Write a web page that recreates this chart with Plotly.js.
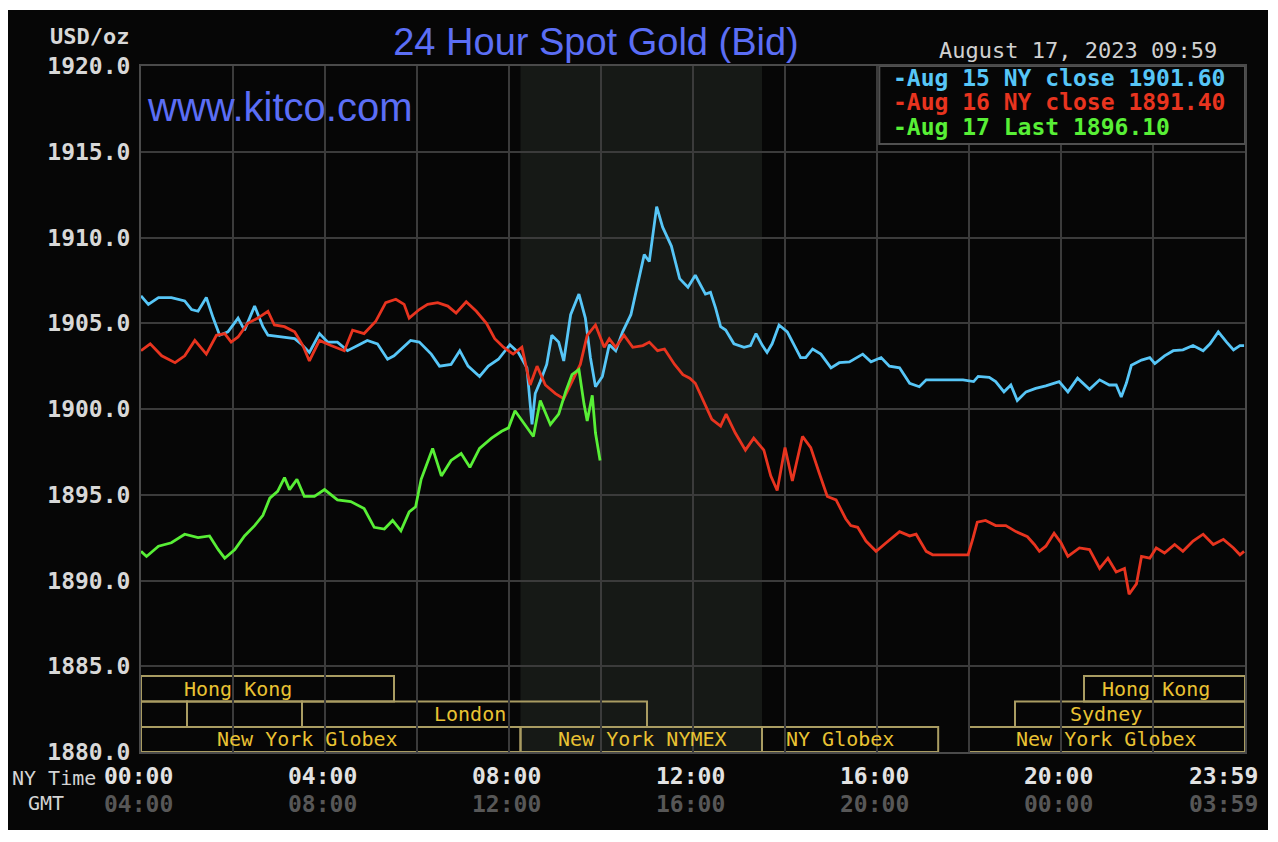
<!DOCTYPE html>
<html><head><meta charset="utf-8">
<script src="https://cdn.plot.ly/plotly-3.0.1.min.js"></script>
<style>
html,body{margin:0;padding:0;background:#ffffff;width:1278px;height:842px;overflow:hidden}
#chart{position:absolute;left:8px;top:10px;width:1260px;height:820px}
</style>
</head><body><div id="chart"></div>
<script>
// ---- data (NY time in hours, price USD/oz) ----
const aug15Hours = [0,0.16,0.38,0.66,0.95,1.1,1.24,1.42,1.57,1.71,1.89,2.11,2.25,2.47,2.65,2.76,3.05,3.34,3.48,3.66,3.88,4.06,4.27,4.49,4.71,4.92,5.14,5.36,5.5,5.65,5.86,6.05,6.31,6.49,6.74,6.93,7.11,7.36,7.55,7.77,8.02,8.2,8.39,8.5,8.57,8.68,8.82,8.93,9.08,9.19,9.34,9.52,9.66,9.77,9.88,10.03,10.18,10.32,10.47,10.65,10.83,10.94,11.05,11.21,11.34,11.53,11.71,11.89,12.05,12.2,12.27,12.38,12.49,12.6,12.71,12.89,13.11,13.25,13.37,13.51,13.61,13.72,13.87,14.05,14.2,14.34,14.45,14.6,14.78,15.0,15.18,15.4,15.69,15.87,16.09,16.27,16.49,16.71,16.92,17.07,17.51,17.87,18.1,18.2,18.44,18.58,18.76,18.91,19.05,19.24,19.45,19.67,19.96,20.15,20.36,20.62,20.84,21.05,21.2,21.31,21.42,21.53,21.75,21.93,22.04,22.25,22.44,22.65,22.87,23.09,23.24,23.42,23.6,23.75,23.89,23.98];
const aug15Price = [1906.6,1906.1,1906.5,1906.5,1906.3,1905.8,1905.7,1906.5,1905.3,1904.3,1904.5,1905.3,1904.6,1906.0,1904.8,1904.3,1904.2,1904.1,1903.8,1903.3,1904.4,1903.9,1903.9,1903.4,1903.7,1904.0,1903.8,1902.9,1903.1,1903.5,1904.0,1903.9,1903.2,1902.5,1902.6,1903.4,1902.5,1901.9,1902.5,1902.9,1903.75,1903.3,1902.4,1899.1,1900.9,1901.6,1902.6,1904.3,1903.9,1902.8,1905.5,1906.7,1905.3,1903.0,1901.3,1901.9,1903.75,1903.4,1904.5,1905.5,1907.8,1909.0,1908.6,1911.8,1910.6,1909.5,1907.6,1907.1,1907.8,1907.0,1906.7,1906.8,1905.9,1904.8,1904.6,1903.8,1903.6,1903.7,1904.4,1903.7,1903.3,1903.8,1904.9,1904.5,1903.7,1903.0,1903.0,1903.5,1903.2,1902.4,1902.7,1902.75,1903.2,1902.75,1903.0,1902.5,1902.4,1901.5,1901.3,1901.7,1901.7,1901.7,1901.6,1901.9,1901.85,1901.6,1901.0,1901.4,1900.5,1901.0,1901.2,1901.35,1901.6,1901.0,1901.8,1901.15,1901.7,1901.4,1901.4,1900.7,1901.5,1902.55,1902.85,1903.0,1902.65,1903.1,1903.4,1903.45,1903.7,1903.4,1903.8,1904.5,1903.9,1903.45,1903.7,1903.7];

const aug16Hours = [0,0.2,0.45,0.74,0.95,1.17,1.42,1.64,1.82,1.96,2.11,2.32,2.54,2.76,2.9,3.12,3.34,3.52,3.66,3.88,4.13,4.42,4.6,4.85,5.1,5.32,5.54,5.72,5.83,6.05,6.23,6.45,6.67,6.85,7.07,7.29,7.51,7.69,7.88,8.09,8.28,8.46,8.61,8.79,9.01,9.19,9.37,9.55,9.7,9.88,10.07,10.18,10.32,10.5,10.69,10.91,11.05,11.23,11.38,11.6,11.78,11.93,12.05,12.23,12.41,12.6,12.72,12.92,13.14,13.32,13.54,13.69,13.83,14.0,14.16,14.38,14.56,14.74,14.92,15.11,15.32,15.43,15.58,15.76,15.98,16.2,16.49,16.71,16.85,17.07,17.21,17.58,17.98,18.09,18.18,18.36,18.58,18.8,19.02,19.27,19.42,19.53,19.67,19.85,20.0,20.15,20.4,20.62,20.84,21.02,21.2,21.38,21.48,21.64,21.75,21.93,22.07,22.25,22.47,22.65,22.87,23.09,23.31,23.53,23.75,23.89,23.98];
const aug16Price = [1903.4,1903.8,1903.1,1902.7,1903.1,1904.0,1903.2,1904.3,1904.4,1903.9,1904.2,1905.0,1905.3,1905.7,1904.9,1904.8,1904.5,1903.7,1902.8,1904.0,1903.7,1903.4,1904.6,1904.4,1905.1,1906.2,1906.4,1906.1,1905.3,1905.8,1906.1,1906.2,1906.0,1905.6,1906.25,1905.7,1905.0,1904.1,1903.6,1903.2,1903.6,1901.4,1902.5,1901.4,1900.9,1900.6,1901.6,1902.6,1904.3,1904.9,1903.6,1904.1,1903.6,1904.3,1903.6,1903.7,1903.9,1903.4,1903.5,1902.6,1902.0,1901.8,1901.5,1900.5,1899.4,1899.0,1899.7,1898.6,1897.6,1898.3,1897.6,1896.1,1895.25,1897.75,1895.8,1898.4,1897.75,1896.3,1894.9,1894.7,1893.6,1893.2,1893.1,1892.3,1891.7,1892.2,1892.85,1892.6,1892.7,1891.7,1891.5,1891.5,1891.5,1892.5,1893.4,1893.5,1893.2,1893.2,1892.85,1892.55,1892.1,1891.7,1892.0,1892.75,1892.2,1891.4,1891.9,1891.8,1890.7,1891.3,1890.5,1890.7,1889.2,1889.8,1891.4,1891.3,1891.9,1891.6,1892.1,1891.7,1892.3,1892.7,1892.1,1892.4,1891.9,1891.5,1891.7];

const aug17Hours = [0,0.12,0.38,0.66,0.95,1.24,1.49,1.68,1.82,2.04,2.25,2.47,2.65,2.8,2.97,3.12,3.23,3.39,3.55,3.77,3.99,4.27,4.56,4.85,5.07,5.29,5.47,5.65,5.83,5.97,6.09,6.34,6.53,6.74,6.96,7.15,7.36,7.62,7.84,7.99,8.13,8.35,8.53,8.68,8.9,9.08,9.23,9.37,9.52,9.63,9.7,9.81,9.88,9.98];
const aug17Price = [1891.7,1891.4,1892.0,1892.2,1892.7,1892.5,1892.6,1891.8,1891.3,1891.8,1892.6,1893.2,1893.8,1894.8,1895.2,1896.0,1895.3,1895.9,1894.9,1894.9,1895.3,1894.7,1894.6,1894.2,1893.1,1893.0,1893.5,1892.9,1894.0,1894.3,1895.9,1897.7,1896.1,1897.0,1897.4,1896.6,1897.7,1898.3,1898.7,1898.9,1899.9,1899.1,1898.4,1900.5,1899.1,1899.7,1901.0,1902.0,1902.3,1900.3,1899.3,1900.8,1898.6,1897.0];

const seriesNames = ["Aug 15 NY close 1901.60","Aug 16 NY close 1891.40","Aug 17 Last 1896.10"];

const priceTicks = [1880,1885,1890,1895,1900,1905,1910,1915,1920];
const gridHours = [0,2,4,6,8,10,12,14,16,18,20,22,24];
const timeTickHours = [0,4,8,12,16,20,24];
const nyTimeLabels = ["00:00","04:00","08:00","12:00","16:00","20:00","23:59"];
const gmtTimeLabels = ["04:00","08:00","12:00","16:00","20:00","00:00","03:59"];

// trading sessions (hours NY time), row 0 = top row
const sessionStart = [0,   20.5, 0,   1.0, 3.5,  19.0, 0,    8.25, 13.5,  18.0];
const sessionEnd   = [5.5, 24,   1.0, 3.5, 11.0, 24,   8.25, 13.5, 17.33, 24];
const sessionRow   = [0,   0,    1,   1,   1,    1,    2,    2,    2,     2];
const sessionLabel = ["Hong Kong","Hong Kong","","","London","Sydney","New York Globex","New York NYMEX","NY Globex","New York Globex"];
const sessionLabelHour = [2.11,22.07,0,0,7.15,20.98,3.63,10.9,15.2,20.98];
const nymexOpen = 8.25, nymexClose = 13.5;

// ---- styling ----
const C_BLUE='#57c6f7', C_RED='#e8341f', C_GREEN='#58ef36';
const MONO='DejaVu Sans Mono';
const rowEdges=[1884.43,1882.94,1881.46,1880.0];
function pxX(x){return (x-141)/1104;}
function pxY(y){return (752-y)/686;}

const traces=[
 {x:aug15Hours,y:aug15Price,name:seriesNames[0],mode:'lines',line:{color:C_BLUE,width:2.8}},
 {x:aug16Hours,y:aug16Price,name:seriesNames[1],mode:'lines',line:{color:C_RED,width:2.8}},
 {x:aug17Hours,y:aug17Price,name:seriesNames[2],mode:'lines',line:{color:C_GREEN,width:2.8}}
];

const shapes=[{type:'rect',xref:'x',yref:'y',x0:nymexOpen,x1:nymexClose,y0:1880,y1:1920,fillcolor:'#161916',line:{width:0},layer:'below'}];
const annotations=[];
for(let i=0;i<sessionStart.length;i++){
  const r=sessionRow[i];
  shapes.push({type:'rect',xref:'x',yref:'y',x0:sessionStart[i],x1:sessionEnd[i],y0:rowEdges[r+1],y1:rowEdges[r],
    line:{color:'#a99c62',width:2},fillcolor:'rgba(0,0,0,0)',layer:'below'});
  if(sessionLabel[i]) annotations.push({xref:'x',yref:'y',x:sessionLabelHour[i],y:(rowEdges[r]+rowEdges[r+1])/2,
    text:sessionLabel[i],showarrow:false,font:{family:MONO,size:20,color:'#e9c233'},xanchor:'center',yanchor:'middle'});
}
// legend box
shapes.push({type:'rect',xref:'x',yref:'y',x0:16.05,x1:24,y0:1915.45,y1:1920,fillcolor:'#060606',line:{color:'#505050',width:2},layer:'above'});
const legendColors=[C_BLUE,C_RED,C_GREEN];
const legendY=[78,102,127];
for(let i=0;i<3;i++) annotations.push({xref:'paper',yref:'paper',x:pxX(891),y:pxY(legendY[i]),xanchor:'left',yanchor:'middle',
  text:'-'+seriesNames[i],showarrow:false,font:{family:MONO,size:23,color:legendColors[i],weight:'bold'}});

for(let i=0;i<timeTickHours.length;i++){
  const last=i===timeTickHours.length-1;
  annotations.push({xref:'x',yref:'paper',x:timeTickHours[i],y:pxY(776),text:nyTimeLabels[i],showarrow:false,
    xanchor:'center',yanchor:'middle',xshift:last?-22:-3,font:{family:MONO,size:23,color:'#e2e2e2',weight:'bold'}});
  annotations.push({xref:'x',yref:'paper',x:timeTickHours[i],y:pxY(804),text:gmtTimeLabels[i],showarrow:false,
    xanchor:'center',yanchor:'middle',xshift:last?-22:-3,font:{family:MONO,size:23,color:'#575757',weight:'bold'}});
}
annotations.push(
 {xref:'paper',yref:'paper',x:pxX(54),y:pxY(778),text:'NY Time',showarrow:false,xanchor:'center',yanchor:'middle',font:{family:MONO,size:20,color:'#d4d4d4'}},
 {xref:'paper',yref:'paper',x:pxX(46),y:pxY(803),text:'GMT',showarrow:false,xanchor:'center',yanchor:'middle',font:{family:MONO,size:20,color:'#d4d4d4'}},
 {xref:'paper',yref:'paper',x:pxX(89),y:pxY(37),text:'USD/oz',showarrow:false,xanchor:'center',yanchor:'middle',font:{family:MONO,size:22,color:'#d8d8d8',weight:'bold'}},
 {xref:'paper',yref:'paper',x:pxX(1078),y:pxY(50),text:'August 17, 2023 09:59',showarrow:false,xanchor:'center',yanchor:'middle',font:{family:MONO,size:22,color:'#d0d0d0'}},
 {xref:'paper',yref:'paper',x:pxX(145),y:pxY(107),text:'www.kitco.com',showarrow:false,xanchor:'left',yanchor:'middle',font:{family:'Liberation Sans, Arial, sans-serif',size:40,color:'#5b6ef5'}}
);

const layout={
  width:1260,height:820,
  paper_bgcolor:'#060606',plot_bgcolor:'#060606',
  margin:{l:133,r:23,t:56,b:78},
  showlegend:false,
  title:{text:'24 Hour Spot Gold (Bid)',xref:'container',yref:'container',x:588/1260,y:1-32/820,xanchor:'center',yanchor:'middle',
    font:{family:'Liberation Sans, Arial, sans-serif',size:38,color:'#5b6ef5'}},
  xaxis:{range:[0,24],tickvals:gridHours,showticklabels:false,showgrid:true,gridcolor:'#3b3b3b',gridwidth:2,zeroline:false,
    showline:true,linecolor:'#4a4a4a',linewidth:2,mirror:true,ticks:'',fixedrange:true},
  yaxis:{range:[1880,1920],tickvals:priceTicks,tickformat:'.1f',showgrid:true,gridcolor:'#3b3b3b',gridwidth:2,zeroline:false,
    showline:true,linecolor:'#4a4a4a',linewidth:2,mirror:true,ticks:'',ticklabelstandoff:4,
    tickfont:{family:MONO,size:23,color:'#d8d8d8',weight:'bold'},fixedrange:true},
  shapes:shapes,annotations:annotations
};
Plotly.newPlot('chart',traces,layout,{displayModeBar:false,staticPlot:true});
</script>
</body></html>
